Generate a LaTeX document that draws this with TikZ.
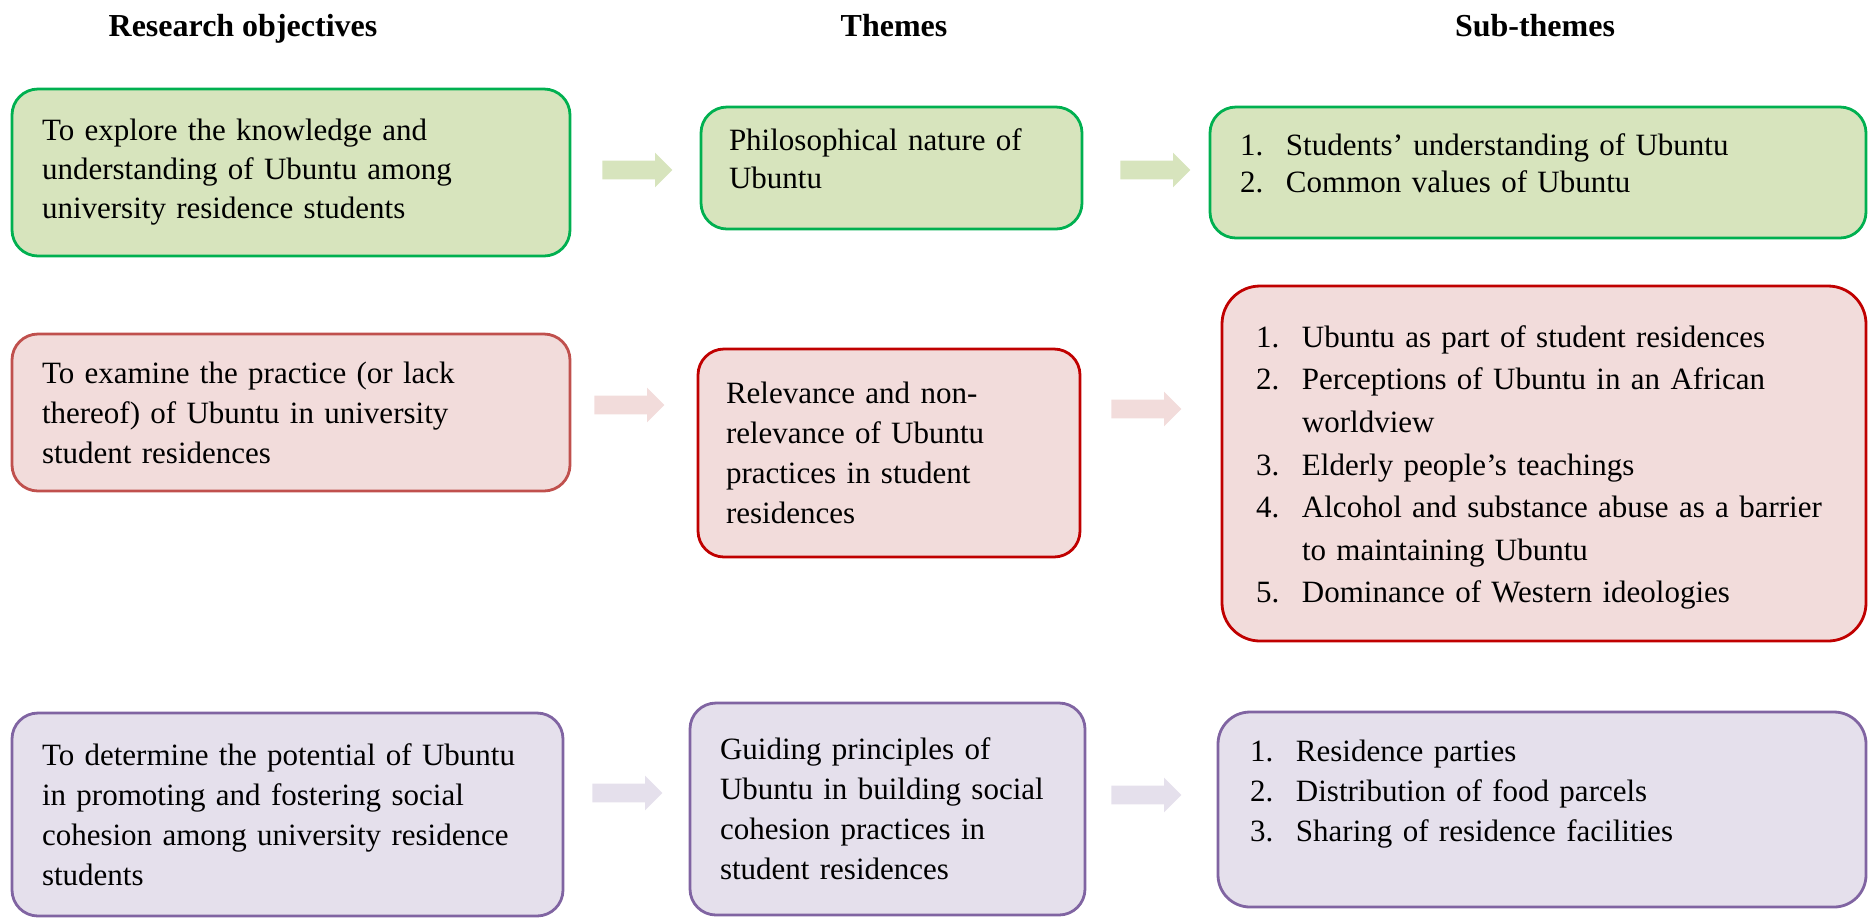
\documentclass[tikz,border=0pt]{standalone}
\usepackage{fontspec}
\setmainfont{Liberation Serif}
\usetikzlibrary{shapes.arrows, positioning}

\definecolor{grfill}{HTML}{D7E4BD}
\definecolor{grline}{HTML}{00B050}
\definecolor{rdfill}{HTML}{F2DCDB}
\definecolor{rdline}{HTML}{C00000}
\definecolor{rdsoft}{HTML}{C0504D}
\definecolor{pufill}{HTML}{E5E0EC}
\definecolor{puline}{HTML}{8064A2}

\hyphenpenalty=10000
\exhyphenpenalty=10000

\newcommand{\itm}[1]{\makebox[23pt][l]{#1}}
\newcommand{\lift}[1]{\rule[-#1]{0pt}{0pt}}
\newcommand{\sink}[1]{\rule{0pt}{#1}}

\begin{document}
\begin{tikzpicture}[x=0.5pt, y=-0.5pt,
    every node/.style={font=\fontsize{15.5}{20}\selectfont},
    box/.style={draw, line width=1.4pt, rounded corners=13pt, align=left, inner ysep=0pt},
    head/.style={font=\fontsize{16}{20}\selectfont\bfseries, anchor=base},
    blockarrow/.style={single arrow, minimum height=35pt, minimum width=17pt, inner sep=4.5pt,
        single arrow head extend=4pt, anchor=tail, draw=none}]
            \useasboundingbox (0,0) rectangle (1869,918);

            % column titles
            \node[head] (h1) at (243,36) {Research objectives};
            \node[head] (h2) at (894,36) {Themes};
            \node[head] (h3) at (1535,36) {Sub-themes};

            % first row
            \node[box, fill=grfill, draw=grline, minimum width=279pt, minimum height=83.5pt,
                text width=249pt, font=\fontsize{15.5}{19.5}\selectfont] (o1) at (291,172.5)
                {To explore the knowledge and\\ understanding of Ubuntu among\\ university residence students};
            \node[box, fill=grfill, draw=grline, minimum width=190.5pt, minimum height=61pt,
                text width=162.5pt, font=\fontsize{15.5}{19}\selectfont] (t1) at (891.5,168)
                {Philosophical nature of\\ Ubuntu\lift{9pt}};
            \node[box, fill=grfill, draw=grline, minimum width=328pt, minimum height=65.5pt,
                text width=298pt, font=\fontsize{15.5}{18.5}\selectfont] (s1) at (1538,172.5)
                {\itm{1.}Students’ understanding of Ubuntu\\ \itm{2.}Common values of Ubuntu\lift{9pt}};
            \node[blockarrow, fill=grfill] (a1) at (602,170) {};
            \node[blockarrow, fill=grfill] (a2) at (1120,170) {};

            % second row
            \node[box, fill=rdfill, draw=rdsoft, minimum width=279pt, minimum height=78.5pt,
                text width=249pt] (o2) at (291,412.5)
                {To examine the practice (or lack\\ thereof) of Ubuntu in university\\ student residences};
            \node[box, fill=rdfill, draw=rdline, minimum width=191pt, minimum height=104pt,
                text width=163pt] (t2) at (889,453)
                {Relevance and non-\\ relevance of Ubuntu\\ practices in student\\ residences};
            \node[box, fill=rdfill, draw=rdline, rounded corners=19pt, minimum width=322pt,
                minimum height=177.5pt, text width=288pt,
                font=\fontsize{15.5}{21.3}\selectfont] (s2) at (1544,463.5)
                {\sink{15pt}\itm{1.}Ubuntu as part of student residences\\
                 \itm{2.}Perceptions of Ubuntu in an African\\
                 \itm{}worldview\\
                 \itm{3.}Elderly people’s teachings\\
                 \itm{4.}Alcohol and substance abuse as a barrier\\
                 \itm{}to maintaining Ubuntu\\
                 \itm{5.}Dominance of Western ideologies};
            \node[blockarrow, fill=rdfill] (a3) at (594,405) {};
            \node[blockarrow, fill=rdfill] (a4) at (1111,409) {};

            % third row
            \node[box, fill=pufill, draw=puline, minimum width=275.5pt, minimum height=101.5pt,
                text width=245.5pt] (o3) at (287.5,814.5)
                {To determine the potential of Ubuntu\\ in promoting and fostering social\\
                 cohesion among university residence\\ students};
            \node[box, fill=pufill, draw=puline, minimum width=197.5pt, minimum height=106pt,
                text width=167.5pt] (t3) at (887.5,809)
                {Guiding principles of\\ Ubuntu in building social\\ cohesion practices in\\
                 student residences};
            \node[box, fill=pufill, draw=puline, rounded corners=16pt, minimum width=324pt,
                minimum height=97.5pt, text width=292pt] (s3) at (1542,809.5)
                {\itm{1.}Residence parties\\ \itm{2.}Distribution of food parcels\\
                 \itm{3.}Sharing of residence facilities\lift{19pt}};
            \node[blockarrow, fill=pufill] (a5) at (592,793) {};
            \node[blockarrow, fill=pufill] (a6) at (1111,795) {};
        \end{tikzpicture}
\end{document}
